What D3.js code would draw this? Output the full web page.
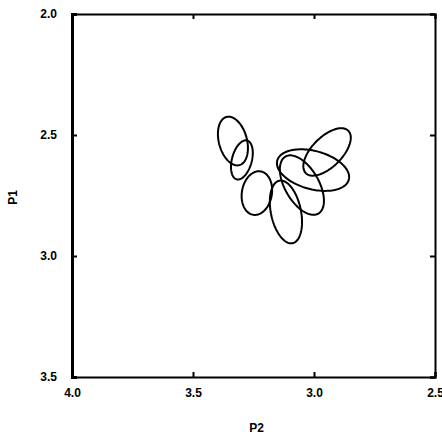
<!DOCTYPE html>
<html>
<head>
  <style>
    body { margin: 0; background: #fff; }
    text { font-family: "Liberation Sans", Arial, sans-serif; font-weight: bold; fill: #000; }
  </style>
</head>
<body>
  <svg id="chart"></svg>
  <script src="https://d3js.org/d3.v7.min.js"></script>
  <script>
    // ellipse centres (P2, P1), semi-axes and tilt (deg, clockwise on screen)
    const p2Center = [3.335, 3.298, 3.236, 3.116, 2.946, 3.004, 3.050];
    const p1Center = [2.525, 2.603, 2.740, 2.818, 2.570, 2.645, 2.707];
    const p2Radius = [0.058, 0.041, 0.062, 0.062, 0.062, 0.153, 0.070];
    const p1Radius = [0.103, 0.083, 0.091, 0.132, 0.124, 0.079, 0.136];
    const tilt = [-15, 15, 10, -12, 45, 15, -30];

    const xTicks = [4.0, 3.5, 3.0, 2.5];
    const yTicks = [2.0, 2.5, 3.0, 3.5];

    const width = 442, height = 439;
    const m = { left: 72, right: 435, top: 14, bottom: 377 };

    const svg = d3.select("#chart").attr("width", width).attr("height", height);

    const x = d3.scaleLinear().domain([4.0, 2.5]).range([m.left, m.right]);
    const y = d3.scaleLinear().domain([2.0, 3.5]).range([m.top, m.bottom]);

    // ellipses, sampled in data units then mapped through the scales
    const line = d3.line().x(d => x(d[0])).y(d => y(d[1])).curve(d3.curveLinearClosed);
    const ellipses = p2Center.map((cx, i) => {
      const a = tilt[i] * Math.PI / 180;
      return d3.range(0, 2 * Math.PI, Math.PI / 60).map(t => {
        const u = p2Radius[i] * Math.cos(t), v = p1Radius[i] * Math.sin(t);
        const sx = u * Math.cos(a) - v * Math.sin(a);
        const sy = u * Math.sin(a) + v * Math.cos(a);
        return [cx - sx, p1Center[i] + sy];
      });
    });

    svg.append("g")
      .selectAll("path")
      .data(ellipses)
      .join("path")
      .attr("d", line)
      .attr("fill", "none")
      .attr("stroke", "#000")
      .attr("stroke-width", 2);

    // frame with inward ticks on all sides
    const fmt = d3.format(".1f");
    svg.append("g").attr("transform", `translate(0,${m.bottom})`)
      .call(d3.axisBottom(x).tickValues(xTicks).tickSize(-5).tickPadding(11).tickFormat(fmt));
    svg.append("g").attr("transform", `translate(0,${m.top})`)
      .call(d3.axisTop(x).tickValues(xTicks).tickSize(-5).tickFormat(""));
    const yAxis = svg.append("g").attr("transform", `translate(${m.left},0)`)
      .call(d3.axisLeft(y).tickValues(yTicks).tickSize(-5).tickPadding(15).tickFormat(fmt));
    svg.append("g").attr("transform", `translate(${m.right},0)`)
      .call(d3.axisRight(y).tickValues(yTicks).tickSize(-5).tickFormat(""));

    svg.selectAll(".domain").attr("stroke-width", 2);
    yAxis.select(".domain").attr("stroke-width", 3);
    svg.selectAll(".tick line").attr("stroke-width", 2);
    svg.selectAll(".tick text").style("font-size", "12px").style("font-weight", "bold");

    svg.append("text")
      .attr("x", (m.left + m.right) / 2 + 3)
      .attr("y", 432)
      .attr("text-anchor", "middle")
      .style("font-size", "12px")
      .text("P2");

    svg.append("text")
      .attr("transform", `translate(17,${(m.top + m.bottom) / 2 + 2}) rotate(-90)`)
      .attr("text-anchor", "middle")
      .style("font-size", "12px")
      .text("P1");
  </script>
</body>
</html>
